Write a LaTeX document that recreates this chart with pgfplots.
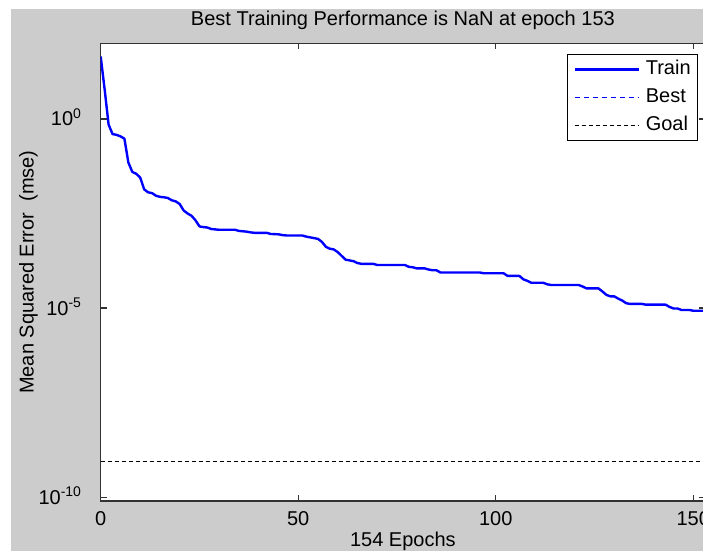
\documentclass[border=0pt]{standalone}
\usepackage{pgfplots}
\pgfplotsset{compat=1.18}
\usepackage{fontspec}
\setmainfont{Liberation Sans}
\newcommand\fs{\fontsize{20}{24}\selectfont}
\definecolor{figgray}{RGB}{204,204,204}
\definecolor{axgray}{RGB}{50,50,50}
\begin{document}
\begin{tikzpicture}
\fill[white] (0pt,0pt) rectangle (703pt,551pt);
\fill[figgray] (11pt,0pt) rectangle (703pt,542pt);
\begin{axis}[
  at={(100.7pt,50pt)}, anchor=south west,
  scale only axis, width=604.4pt, height=457.7pt,
  xmin=0, xmax=153,
  ymode=log, ymin=7.94e-11, ymax=100,
  axis background/.style={fill=white},
  axis line style={axgray, line width=1.2pt},
  every tick/.style={axgray, line width=1.2pt},
  major tick length=6pt,
  tick align=inside,
  xtick={0,50,100,150},
  ytick={1e-10,1e-5,1},
  yticklabels={{10\textsuperscript{-10}},{10\textsuperscript{-5}},{10\textsuperscript{0}}},
  minor tick num=0,
  xticklabel style={font=\fs, anchor=base, inner sep=0pt, yshift=-24.5pt},
  yticklabel style={font=\fs, anchor=base east, inner sep=0pt, xshift=-19pt, yshift=-7pt},
  /pgf/number format/assume math mode=true,
  title={Best Training Performance is NaN at epoch 153},
  title style={font=\fs, at={(rel axis cs:0.5,1)}, anchor=base, inner sep=0pt, yshift=12pt},
  xlabel={154 Epochs},
  xlabel style={font=\fs, at={(rel axis cs:0.5,0)}, anchor=base, inner sep=0pt, yshift=-45pt},
  ylabel={Mean Squared Error\ \ (mse)},
  ylabel style={font=\fs, at={([xshift=-67pt]rel axis cs:0,0.5)}, anchor=base, inner sep=0pt},
  legend image code/.code={\draw[#1] (3pt,0pt) -- (67pt,0pt); \path (72pt,0pt);},
  legend style={at={(rel axis cs:0.7715,0.9766)}, anchor=north west,
    draw=black, line width=0.8pt, fill=white, font=\fs,
    inner xsep=6pt, inner ysep=4pt, row sep=6pt,
    nodes={inner sep=1pt, text height=15pt, text depth=5pt}},
  legend cell align=left,
]
\addplot[blue, line width=2.4pt, line join=round] coordinates {
(0,44.67) (1,6.026) (2,0.7079) (3,0.3981) (4,0.3802) (5,0.3467) (6,0.3020)
(7,0.07079) (8,0.03981) (9,0.03548) (10,0.02818) (11,0.01380) (12,0.01148)
(13,0.01096) (14,0.009333) (15,0.008710) (16,0.008511) (17,0.008128)
(18,0.007079) (19,0.006607) (20,0.005623) (21,0.003802) (22,0.003162)
(23,0.002754) (24,0.002089) (25,0.001445) (26,0.001380) (27,0.001349)
(28,0.001230) (29,0.001202) (30,0.001175) (34,0.001175) (35,0.001096)
(36,0.001072) (37,0.001047) (38,0.001) (39,9.772e-4) (42,9.772e-4)
(43,9.120e-4) (45,8.913e-4) (46,8.511e-4) (47,8.318e-4) (51,8.318e-4)
(52,7.762e-4) (53,7.413e-4) (54,7.079e-4) (55,6.761e-4) (56,5.623e-4)
(57,4.169e-4) (58,3.715e-4) (59,3.548e-4) (60,3.020e-4) (61,2.399e-4)
(62,1.905e-4) (63,1.820e-4) (64,1.738e-4) (65,1.549e-4) (66,1.479e-4)
(69,1.479e-4) (70,1.380e-4) (77,1.380e-4) (78,1.230e-4) (79,1.202e-4)
(80,1.122e-4) (82,1.122e-4) (83,1.047e-4) (84,1.0e-4) (85,1.0e-4)
(86,8.710e-5) (96,8.710e-5) (97,8.318e-5) (102,8.318e-5) (103,7.079e-5)
(106,7.079e-5) (107,5.754e-5) (108,5.248e-5) (109,4.677e-5) (112,4.677e-5)
(113,4.266e-5) (114,4.074e-5) (121,4.074e-5) (122,3.715e-5) (123,3.311e-5)
(126,3.311e-5) (127,2.754e-5) (128,2.239e-5) (129,2.042e-5) (130,2.042e-5)
(131,1.778e-5) (132,1.585e-5) (133,1.349e-5) (134,1.288e-5) (137,1.288e-5)
(138,1.230e-5) (143,1.230e-5) (144,1.072e-5) (145,9.772e-6) (146,9.772e-6)
(147,8.913e-6) (149,8.913e-6) (150,8.511e-6) (153,8.511e-6)
};
\addlegendentry{Train}
\addlegendimage{blue, line width=0.9pt, dash pattern=on 5pt off 4pt}
\addlegendentry{Best}
\addplot[black, line width=0.9pt, dash pattern=on 4pt off 3pt] coordinates {(0,9e-10) (153,9e-10)};
\addlegendentry{Goal}
\end{axis}
\pgfresetboundingbox
\path[use as bounding box] (0pt,0pt) rectangle (703pt,551pt);
\end{tikzpicture}
\end{document}
